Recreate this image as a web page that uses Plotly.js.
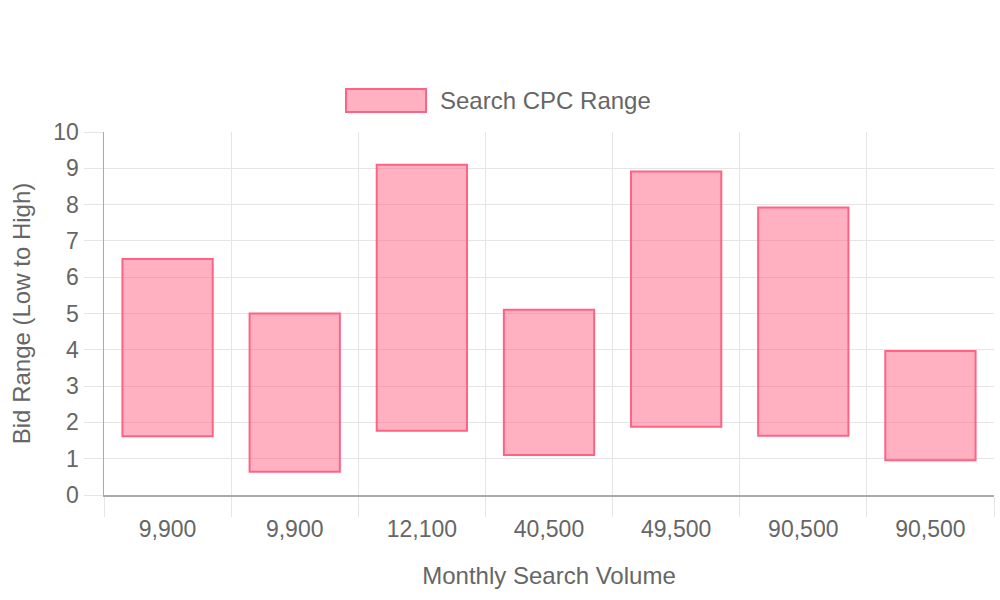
<!DOCTYPE html>
<html>
<head>
<meta charset="utf-8">
<script src="https://cdn.plot.ly/plotly-3.0.1.min.js"></script>
<style>html,body{margin:0;padding:0;background:#fff;}#chart{width:1000px;height:600px;}</style>
</head>
<body>
<div id="chart"></div>
<script>
const labels = ['9,900', '9,900', '12,100', '40,500', '49,500', '90,500', '90,500'];
const lowBid = [1.62, 0.64, 1.77, 1.10, 1.88, 1.63, 0.96];
const highBid = [6.50, 5.00, 9.10, 5.10, 8.91, 7.92, 3.97];
const seriesName = 'Search CPC Range';
const yTicks = [0, 1, 2, 3, 4, 5, 6, 7, 8, 9, 10];

const idx = labels.map((_, i) => i);
const bounds = labels.map((_, i) => i - 0.5).concat([labels.length - 0.5]);

const font = 'Liberation Sans, Arial, sans-serif';
const textColor = '#666666';

const trace = {
  type: 'bar',
  x: idx,
  y: highBid.map((h, i) => h - lowBid[i]),
  base: lowBid,
  width: 0.71,
  name: seriesName,
  marker: {color: 'rgba(255,99,132,0.5)', line: {color: 'rgb(255,99,132)', width: 2}},
  hoverinfo: 'skip',
  showlegend: false,
  xaxis: 'x',
  yaxis: 'y'
};

const layout = {
  width: 1000, height: 600,
  margin: {l: 104, r: 6, t: 132, b: 105},
  paper_bgcolor: '#fff', plot_bgcolor: '#fff',
  font: {family: font, color: textColor, size: 23},
  xaxis: {
    range: [-0.5, labels.length - 0.5],
    tickmode: 'array', tickvals: bounds, ticktext: bounds.map(() => ''),
    showgrid: true, gridcolor: '#e5e5e5', gridwidth: 1,
    ticks: 'outside', ticklen: 20, tickcolor: '#e5e5e5', tickwidth: 1,
    showline: true, linecolor: '#aaaaaa', linewidth: 1.5,
    zeroline: false, fixedrange: true
  },
  xaxis2: {
    overlaying: 'x', matches: 'x', side: 'bottom',
    range: [-0.5, labels.length - 0.5],
    tickmode: 'array', tickvals: idx, ticktext: labels,
    showgrid: false, zeroline: false, showline: false,
    ticks: 'outside', ticklen: 13, tickcolor: 'rgba(0,0,0,0)',
    tickfont: {size: 23, color: textColor},
    title: {text: 'Monthly Search Volume', font: {size: 24, color: textColor}, standoff: 26}
  },
  yaxis: {
    range: [0, 10],
    tickmode: 'array', tickvals: yTicks,
    showgrid: true, gridcolor: '#e5e5e5', gridwidth: 1,
    ticks: 'outside', ticklen: 19, tickcolor: '#e5e5e5', tickwidth: 1,
    showline: true, linecolor: '#aaaaaa', linewidth: 1.5,
    zeroline: false, fixedrange: true,
    tickfont: {size: 23, color: textColor},
    title: {text: 'Bid Range (Low to High)', font: {size: 24, color: textColor}, standoff: 16}
  },
  shapes: [{
    type: 'rect', xref: 'paper', yref: 'paper',
    x0: 0.2719, x1: 0.3618, y0: 1.0551, y1: 1.1185,
    fillcolor: 'rgba(255,99,132,0.5)', line: {color: 'rgb(255,99,132)', width: 2}
  }],
  annotations: [{
    xref: 'paper', yref: 'paper', x: 0.3753, y: 1.0868,
    xanchor: 'left', yanchor: 'middle', showarrow: false,
    text: seriesName, font: {size: 24, color: textColor, family: font}
  }]
};

const dummy = {type: 'scatter', x: [0], y: [0], xaxis: 'x2', yaxis: 'y', mode: 'none', hoverinfo: 'skip', showlegend: false};

Plotly.newPlot('chart', [trace, dummy], layout, {displayModeBar: false, staticPlot: true});
</script>
</body>
</html>
